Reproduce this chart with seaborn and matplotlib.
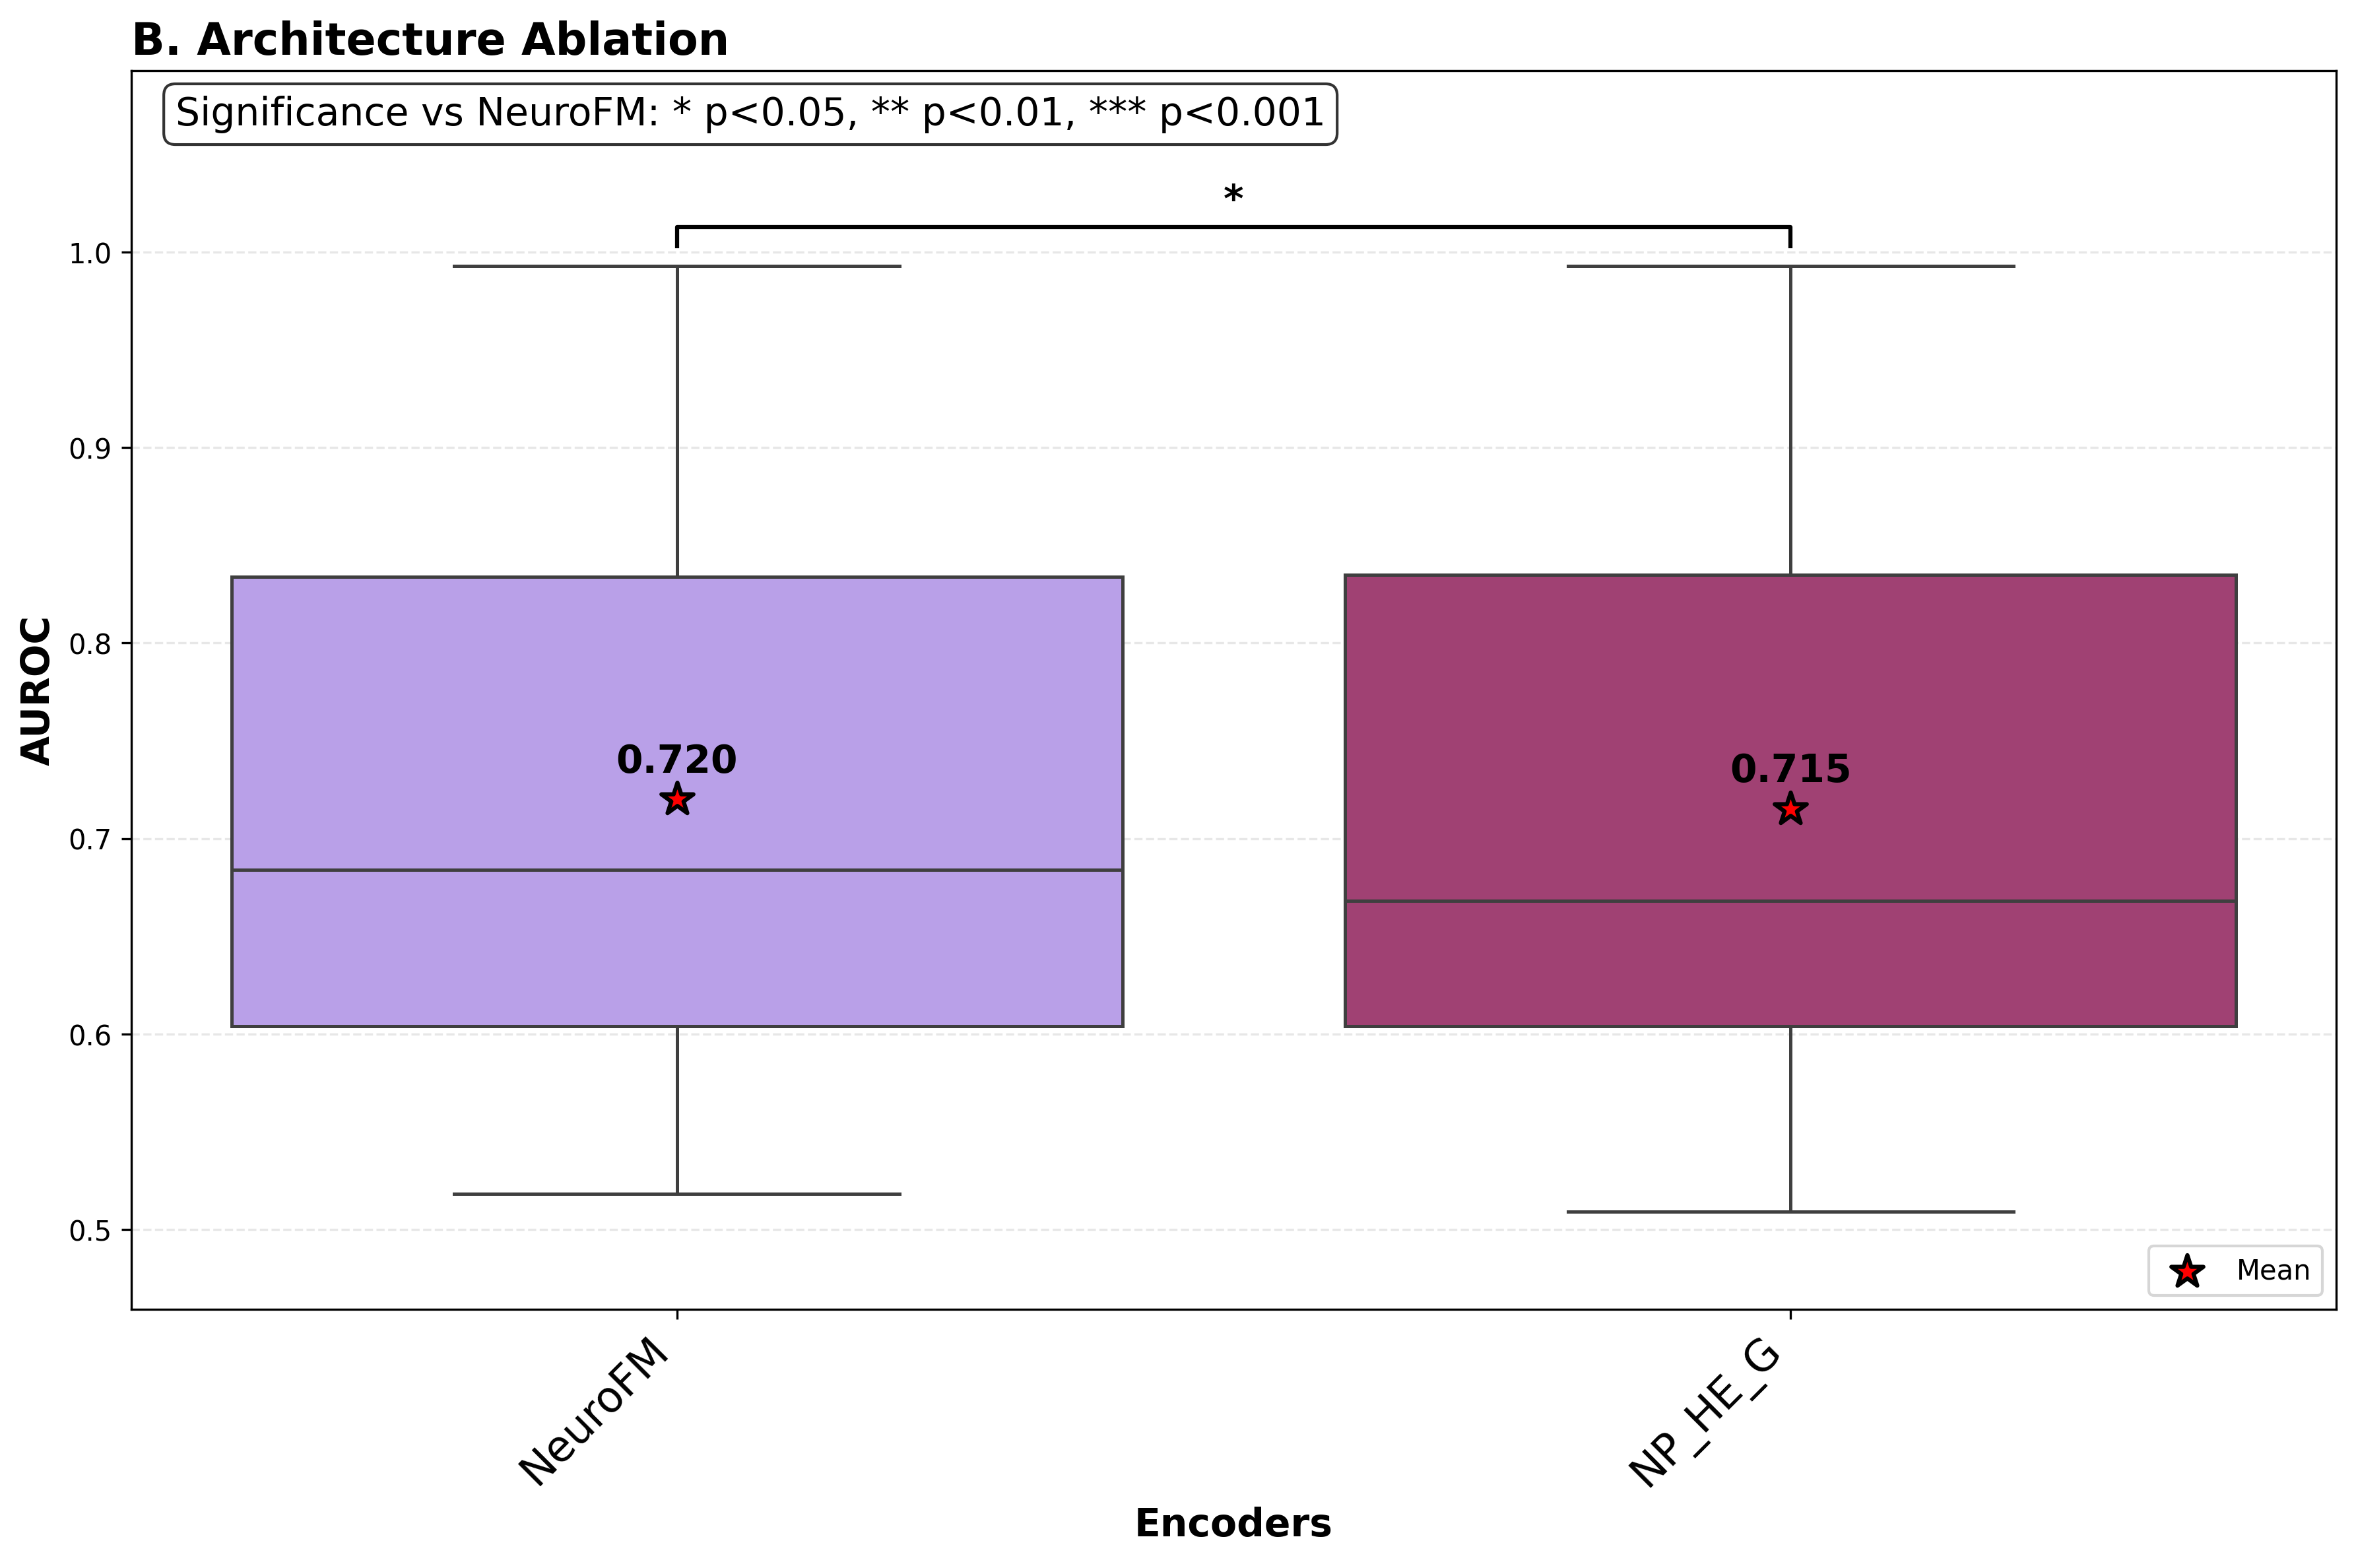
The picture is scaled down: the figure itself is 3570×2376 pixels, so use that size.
import numpy as np
import pandas as pd
import matplotlib
matplotlib.use("Agg")
import matplotlib.pyplot as plt
import seaborn as sns

# AUROC values per encoder
encoders = ["NeuroFM", "NP_HE_G"]
neurofm_auroc = [0.518, 0.560, 0.604, 0.640, 0.684, 0.747, 0.834, 0.900, 0.993]
np_he_g_auroc = [0.509, 0.555, 0.604, 0.635, 0.668, 0.741, 0.835, 0.895, 0.993]
box_colors = ["#B9A0E8", "#A04173"]
sig_label = "*"

df = pd.DataFrame({
    "Encoder": [encoders[0]] * len(neurofm_auroc) + [encoders[1]] * len(np_he_g_auroc),
    "AUROC": neurofm_auroc + np_he_g_auroc,
})

fig, ax = plt.subplots(figsize=(11.9, 7.923), dpi=300)
fig.subplots_adjust(left=0.0557, right=0.9916, top=0.9546, bottom=0.1649)

sns.boxplot(data=df, x="Encoder", y="AUROC", hue="Encoder", order=encoders,
            palette=dict(zip(encoders, box_colors)), saturation=1, width=0.8,
            linewidth=1.2, linecolor="#3f3f3f", legend=False, ax=ax)

# mean markers + labels
means = df.groupby("Encoder")["AUROC"].mean().reindex(encoders)
xpos = np.arange(len(encoders))
ax.scatter(xpos, means.values, marker="*", s=150, c="red", edgecolors="black",
           linewidths=1.5, zorder=5, label="Mean")
for x, m in zip(xpos, means.values):
    ax.text(x, m + 0.01, f"{m:.3f}", ha="center", va="bottom",
            fontsize=14, fontweight="bold")

# significance bracket
ymax = df["AUROC"].max()
y, h = ymax + 0.01, 0.01
ax.plot([0, 0, 1, 1], [y, y + h, y + h, y], color="black", lw=1.5)
ax.text(0.5, y + h + 0.004, sig_label, ha="center", va="bottom",
        fontsize=14, fontweight="bold")

ax.text(0.02, 0.98, "Significance vs NeuroFM: * p<0.05, ** p<0.01, *** p<0.001",
        transform=ax.transAxes, va="top", ha="left", fontsize=14,
        bbox=dict(boxstyle="round", facecolor="white", alpha=0.8))

ax.set_ylim(df["AUROC"].min() - 0.05, ymax + 0.1)
ax.set_xlim(-0.49, 1.49)
ax.yaxis.grid(True, linestyle="--", alpha=0.3)
ax.set_axisbelow(True)

ax.set_title("B. Architecture Ablation", loc="left", fontsize=16, fontweight="bold")
ax.set_xlabel("Encoders", fontsize=14, fontweight="bold")
ax.set_ylabel("AUROC", fontsize=14, fontweight="bold")
plt.setp(ax.get_xticklabels(), rotation=45, ha="right", fontsize=15.5)
ax.legend(loc="lower right", fontsize=10)

fig.savefig("out.png", dpi=300)
